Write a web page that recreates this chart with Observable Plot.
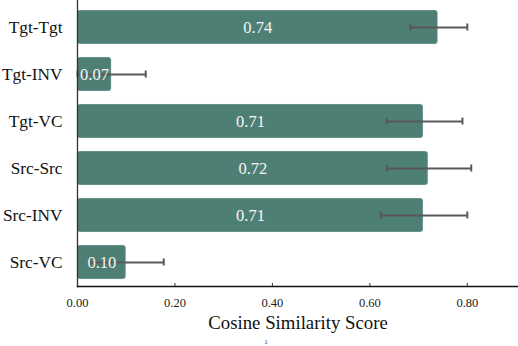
<!DOCTYPE html>
<html>
<head>
<meta charset="utf-8">
<script src="https://cdn.jsdelivr.net/npm/d3@7"></script>
<script src="https://cdn.jsdelivr.net/npm/@observablehq/plot@0.6"></script>
<style>
  html, body { margin: 0; padding: 0; background: #fff; }
  svg { display: block; }
  svg, svg text { font-family: "Liberation Serif", "Times New Roman", "DejaVu Serif", serif !important; }
</style>
</head>
<body>
<div id="chart"></div>
<script>
const categories = ["Tgt-Tgt", "Tgt-INV", "Tgt-VC", "Src-Src", "Src-INV", "Src-VC"];
const means = [0.74, 0.07, 0.71, 0.72, 0.71, 0.10];
const lower = [0.683, 0.0, 0.634, 0.635, 0.622, 0.025];
const upper = [0.80, 0.14, 0.79, 0.808, 0.80, 0.177];
const xTicks = [0, 0.2, 0.4, 0.6, 0.8];
const xLabel = "Cosine Similarity Score";
const pageNote = "1";

const data = categories.map((c, i) => ({cat: c, mean: means[i], lo: lower[i], hi: upper[i], label: means[i].toFixed(2)}));

const barColor = "#4e7f75";

const chart = Plot.plot({
  width: 518,
  height: 346,
  marginLeft: 77,
  marginRight: 0,
  marginTop: 0,
  marginBottom: 60,
  style: {background: "white"},
  x: {domain: [0, 0.905], range: [77, 518]},
  y: {domain: categories, range: [2.8, 286], paddingInner: 0.283, paddingOuter: 0.13},
  marks: [
    Plot.barX(data, {x: "mean", y: "cat", fill: barColor, rx: 3, stroke: "#dfe9e6", strokeWidth: 0.6, strokeOpacity: 0.6}),
    Plot.ruleY(data, {y: "cat", x1: "lo", x2: "hi", stroke: "#595959", strokeWidth: 2}),
    Plot.tickX(data, {x: "lo", y: "cat", stroke: "#595959", strokeWidth: 2, insetTop: 13.5, insetBottom: 13.5}),
    Plot.tickX(data, {x: "hi", y: "cat", stroke: "#595959", strokeWidth: 2, insetTop: 13.5, insetBottom: 13.5}),
    Plot.text(data, {x: d => d.mean / 2, y: "cat", text: "label", fill: "#f4f7f6", fontSize: 16.5}),
    Plot.frame({anchor: "left", stroke: "#333", strokeWidth: 1.3}),
    Plot.frame({anchor: "bottom", stroke: "#111", strokeWidth: 1.3}),
    Plot.axisY({tickSize: 0, tickPadding: 15, fontSize: 17.3, label: null, fill: "#111"}),
    Plot.axisX({ticks: xTicks, tickSize: -3, tickFormat: () => "", label: null, stroke: "#333"}),
    Plot.axisX({ticks: xTicks, tickSize: 0, tickPadding: 12, tickFormat: d => d.toFixed(2), fontSize: 12.5, label: null, fill: "#222"}),
    Plot.text([xLabel], {frameAnchor: "bottom", dy: 42, fontSize: 18.8, fill: "#111"}),
    Plot.text([pageNote], {frameAnchor: "bottom", dy: 57, dx: -32, fontSize: 7, fill: "#333"})
  ]
});
document.getElementById("chart").appendChild(chart);
</script>
</body>
</html>
